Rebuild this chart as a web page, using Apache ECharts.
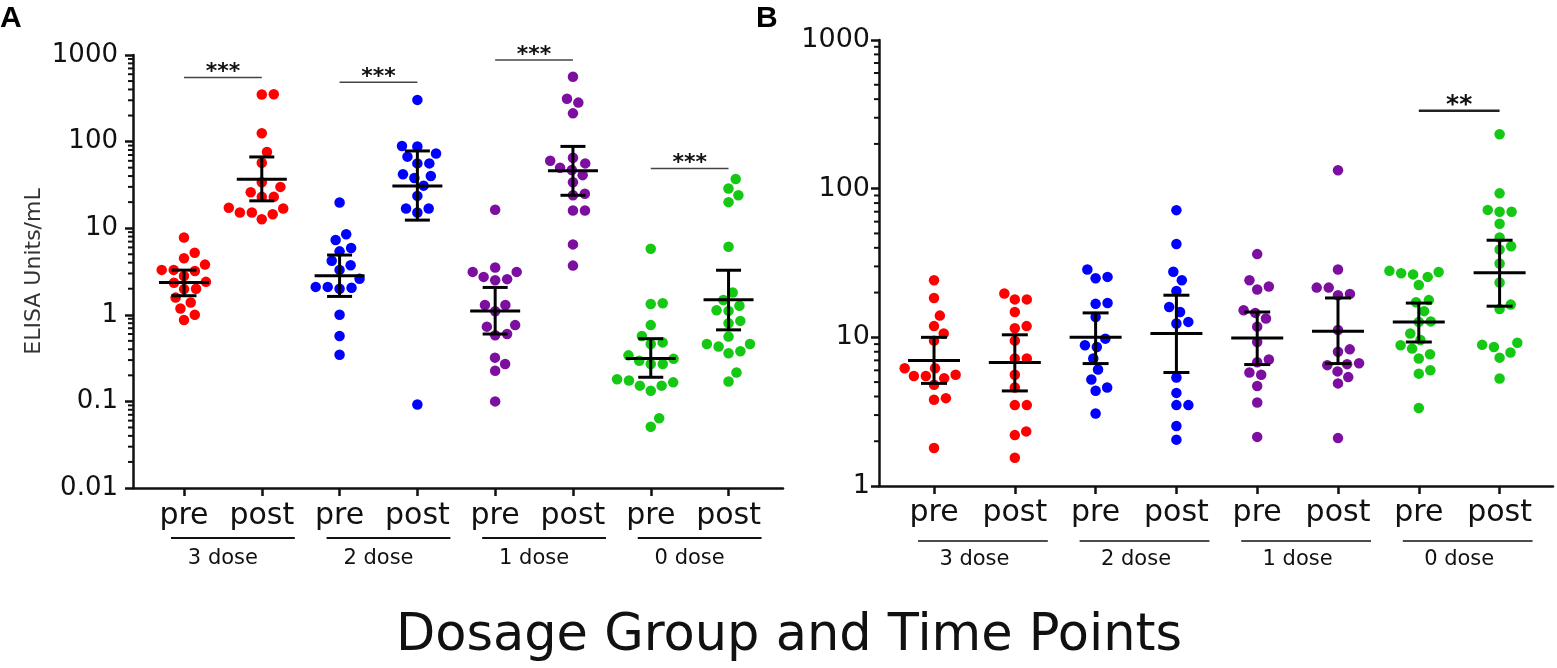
<!DOCTYPE html>
<html>
<head>
<meta charset="utf-8">
<script src="https://cdn.jsdelivr.net/npm/echarts@6/dist/echarts.min.js"></script>
<style>
html, body { margin: 0; padding: 0; background: #fff; }
#chart { width: 1557px; height: 668px; }
</style>
</head>
<body>
<div id="chart"></div>
<script>
// categories
var xLabels = ['pre', 'post', 'pre', 'post', 'pre', 'post', 'pre', 'post'];
var doseLabels = ['3 dose', '2 dose', '1 dose', '0 dose'];
var doseColors = ['#ff0000', '#0000ff', '#7d0fa0', '#14c814'];

// panel A - ELISA units/mL
var a3Pre = [7.8, 5.2, 4.5, 3.8, 3.3, 3.2, 3.3, 2.8, 2.4, 2.35, 2.0, 1.98, 1.58, 1.39, 1.18, 1.0, 0.87];
var a3Post = [352, 350, 125, 76, 57, 34, 30, 26, 23, 23, 16.9, 17.2, 15.2, 14.5, 15.2, 12.7];
var a2Pre = [19.8, 8.5, 7.3, 5.9, 5.4, 4.2, 3.74, 3.3, 2.6, 2.1, 2.05, 2.1, 2.0, 1.0, 0.57, 0.345];
var a2Post = [303, 89, 88, 73, 67, 56, 56, 42, 40, 38, 31, 23.6, 16.9, 15.2, 16.9, 0.092];
var a1Pre = [16.3, 3.52, 3.13, 3.13, 2.74, 2.58, 2.51, 1.3, 1.3, 1.1, 0.76, 0.73, 0.6, 0.58, 0.32, 0.27, 0.226, 0.10];
var a1Post = [562, 313, 282, 212, 65, 60, 56, 50, 47, 41, 34, 25, 24, 16, 16, 6.5, 3.7];
var a0Pre = [5.8, 1.36, 1.33, 0.76, 0.57, 0.46, 0.48, 0.34, 0.295, 0.27, 0.27, 0.31, 0.18, 0.166, 0.152, 0.133, 0.152, 0.174, 0.064, 0.051];
var a0Post = [37, 28.7, 24, 20, 6.1, 1.81, 1.48, 1.27, 1.11, 1.13, 0.85, 0.80, 0.56, 0.46, 0.38, 0.36, 0.43, 0.46, 0.216, 0.17];
var aMean = [2.36, 36.8, 2.82, 30.8, 1.11, 46, 0.313, 1.49];
var aLow = [1.66, 20.7, 1.63, 12.4, 0.6, 24, 0.19, 0.67];
var aHigh = [3.28, 66.5, 4.9, 78, 2.07, 88, 0.53, 3.27];
var aSigFrom = [1, 3, 5, 7];
var aSigTo = [2, 4, 6, 8];
var aSigAt = [551, 483, 873, 49];
var aSigText = ['***', '***', '***', '***'];
var aTicks = [0.01, 0.1, 1, 10, 100, 1000];

// panel B
var b3Pre = [24.2, 18.4, 14, 11.9, 10.6, 9.5, 6.2, 6.2, 5.6, 5.5, 5.5, 5.3, 4.8, 3.9, 3.8, 1.8];
var b3Post = [19.7, 18, 18, 14.8, 11.9, 11.5, 9.5, 7.2, 7.2, 5.6, 4.6, 3.5, 3.5, 2.33, 2.2, 1.55];
var b2Pre = [28.6, 25, 25.5, 17, 16.8, 13.7, 9.8, 8.85, 8.6, 7.2, 6.07, 5.2, 4.6, 4.37, 3.07];
var b2Post = [71.7, 42.4, 27.6, 24.2, 20.5, 16, 14.8, 12.7, 12.4, 5.37, 4.23, 3.5, 3.5, 2.53, 2.05];
var b1Pre = [36.3, 24.2, 22, 21, 15.2, 14.6, 13.4, 11.8, 9.3, 7.1, 6.8, 5.8, 5.6, 4.7, 3.64, 2.14];
var b1Post = [133, 28.6, 21.6, 21.6, 19.6, 19.2, 11.2, 8.3, 8.0, 6.7, 6.5, 6.6, 5.9, 5.4, 4.9, 2.1];
var b0Pre = [27.5, 26.5, 28, 25.5, 27, 22.5, 17.8, 17.2, 15, 12.8, 12.7, 10.6, 9.6, 8.85, 8.4, 7.7, 7.2, 6, 5.7, 3.35];
var b0Post = [232, 93, 70, 72, 70, 58, 47, 39, 41, 31.4, 23.4, 16.6, 15.5, 8.9, 9.2, 8.6, 7.9, 7.3, 5.28];
var bMean = [6.98, 6.76, 10, 10.6, 9.9, 11, 12.7, 27.2];
var bLow = [4.9, 4.36, 6.66, 5.8, 6.56, 6.66, 9.3, 16.2];
var bHigh = [10, 10.4, 14.6, 19.2, 14.8, 18.4, 17, 45];
var bSigFrom = [7];
var bSigTo = [8];
var bSigAt = [334];
var bSigText = ['**'];
var bTicks = [1, 10, 100, 1000];

var FONT = 'DejaVu Sans';
var chart = echarts.init(document.getElementById('chart'));

// place dots of one group side by side (simple beeswarm, in pixels)
function swarm(vals, center, pxX, pxY) {
    var D = 12;
    var pts = vals.map(function (v) { return { v: v, y: Math.log10(v) * pxY, x: 0 }; });
    pts.sort(function (a, b) { return a.y - b.y; });
    var placed = [];
    pts.forEach(function (p) {
        var cands = [0];
        placed.forEach(function (q) {
            var dy = p.y - q.y;
            if (Math.abs(dy) < D) {
                var dx = Math.sqrt(D * D - dy * dy);
                cands.push(q.x + dx, q.x - dx);
            }
        });
        cands.sort(function (a, b) { return Math.abs(a) - Math.abs(b); });
        for (var i = 0; i < cands.length; i++) {
            var c = cands[i], ok = true;
            for (var j = 0; j < placed.length; j++) {
                var ddx = c - placed[j].x, ddy = p.y - placed[j].y;
                if (ddx * ddx + ddy * ddy < D * D - 0.01) { ok = false; break; }
            }
            if (ok) { p.x = c; break; }
        }
        placed.push(p);
    });
    return pts.map(function (p) { return [center + p.x / pxX, p.v]; });
}

function minorValues(ticks) {
    var out = [];
    for (var i = 0; i < ticks.length - 1; i++) {
        for (var m = 2; m <= 9; m++) out.push(+(ticks[i] * m).toPrecision(3));
    }
    return out;
}

function fmt(v) { return String(+Number(v).toPrecision(3)); }

function panelSeries(k, groups, mean, low, high, sFrom, sTo, sAt, sText, ticks, xMin, px, st) {
    var series = [];
    var yMin = ticks[0];
    groups.forEach(function (g, i) {
        series.push({
            type: 'scatter', xAxisIndex: k, yAxisIndex: k, silent: true,
            symbolSize: 10.5, z: 2,
            itemStyle: { color: doseColors[Math.floor(i / 2)], opacity: 1 },
            data: swarm(g, i + 1, px.x, px.y)
        });
    });
    // mean with 95% CI
    series.push({
        type: 'custom', xAxisIndex: k, yAxisIndex: k, silent: true, z: 5,
        encode: { x: 0, y: [1, 2, 3] },
        data: mean.map(function (m, i) { return [i + 1, m, low[i], high[i]]; }),
        renderItem: function (params, api) {
            var x = api.value(0);
            var pm = api.coord([x, api.value(1)]);
            var pl = api.coord([x, api.value(2)]);
            var ph = api.coord([x, api.value(3)]);
            var s = { stroke: '#000', lineWidth: 3 };
            return { type: 'group', children: [
                { type: 'line', shape: { x1: pm[0] - st.meanW, y1: pm[1], x2: pm[0] + st.meanW, y2: pm[1] }, style: s },
                { type: 'line', shape: { x1: pl[0], y1: pl[1], x2: ph[0], y2: ph[1] }, style: s },
                { type: 'line', shape: { x1: pl[0] - st.capW, y1: pl[1], x2: pl[0] + st.capW, y2: pl[1] }, style: s },
                { type: 'line', shape: { x1: ph[0] - st.capW, y1: ph[1], x2: ph[0] + st.capW, y2: ph[1] }, style: s }
            ] };
        }
    });
    // minor log ticks
    series.push({
        type: 'custom', xAxisIndex: k, yAxisIndex: k, silent: true, z: 6,
        encode: { x: 0, y: 1 },
        data: minorValues(ticks).map(function (v) { return [xMin, v]; }),
        renderItem: function (params, api) {
            var p = api.coord([api.value(0), api.value(1)]);
            return { type: 'line', shape: { x1: p[0] - 5, y1: p[1], x2: p[0], y2: p[1] },
                style: { stroke: '#111', lineWidth: 2 } };
        }
    });
    // dose group underline and label
    series.push({
        type: 'custom', xAxisIndex: k, yAxisIndex: k, silent: true, z: 6,
        encode: { x: 0, y: 1 },
        data: doseLabels.map(function (d, i) { return [2 * i + 1, yMin]; }),
        renderItem: function (params, api) {
            var x = api.value(0);
            var p1 = api.coord([x, yMin]);
            var p2 = api.coord([x + 1, yMin]);
            return { type: 'group', children: [
                { type: 'line', shape: { x1: p1[0] - st.ulLeft, y1: p1[1] + st.ulDy, x2: p2[0] + 33, y2: p1[1] + st.ulDy },
                    style: { stroke: '#111', lineWidth: st.ulW } },
                { type: 'text', style: { text: doseLabels[params.dataIndex], x: (p1[0] + p2[0]) / 2, y: p1[1] + st.txtDy,
                    align: 'center', verticalAlign: 'middle', font: '21px "DejaVu Sans"', fill: '#111' } }
            ] };
        }
    });
    // significance bars
    series.push({
        type: 'custom', xAxisIndex: k, yAxisIndex: k, silent: true, z: 6,
        encode: { x: [0, 1], y: 2 },
        data: sFrom.map(function (f, i) { return [f, sTo[i], sAt[i]]; }),
        renderItem: function (params, api) {
            var a = api.coord([api.value(0), api.value(2)]);
            var b = api.coord([api.value(1), api.value(2)]);
            return { type: 'group', children: [
                { type: 'line', shape: { x1: a[0], y1: a[1], x2: b[0], y2: b[1] },
                    style: { stroke: st.sigColor, lineWidth: st.sigW } },
                { type: 'text', style: { text: sText[params.dataIndex], x: (a[0] + b[0]) / 2, y: a[1] - 5,
                    align: 'center', verticalAlign: 'middle', font: st.sigFont, fill: '#111' } }
            ] };
        }
    });
    return series;
}

var positions = xLabels.map(function (l, i) { return i + 1; });

function xAxisCfg(k, min, max, margin) {
    return {
        gridIndex: k, type: 'value', min: min, max: max,
        axisLine: { show: true, onZero: false, lineStyle: { color: '#111', width: 2.5 } },
        axisTick: { show: true, customValues: positions, length: 8, lineStyle: { color: '#111', width: 2.5 } },
        axisLabel: { show: true, customValues: positions, margin: margin, fontSize: 30, fontFamily: FONT, color: '#111',
            formatter: function (v) { return xLabels[Math.round(v) - 1]; } },
        splitLine: { show: false }
    };
}

function yAxisCfg(k, min, max, split, fs, margin) {
    return {
        gridIndex: k, type: 'log', logBase: 10, min: min, max: max, splitNumber: split,
        axisLine: { show: true, lineStyle: { color: '#111', width: 2.5 } },
        axisTick: { show: true, length: 8, lineStyle: { color: '#111', width: 2.5 } },
        axisLabel: { show: true, fontSize: fs, fontFamily: FONT, color: '#111', margin: margin, formatter: fmt },
        splitLine: { show: false }
    };
}

var yA = yAxisCfg(0, 0.01, 1000, 5, 26, 15);
yA.name = 'ELISA Units/mL';
yA.nameLocation = 'middle';
yA.nameRotate = 90;
yA.nameGap = 88;
yA.nameTextStyle = { fontSize: 22, fontFamily: FONT, color: '#333' };

var aMinX = 0.3445, aMaxX = 8.70, bMinX = 0.319, bMaxX = 8.661;

var option = {
    backgroundColor: '#fff',
    animation: false,
    grid: [
        { left: 133, top: 55, width: 650, height: 433 },
        { left: 879, top: 40, width: 674, height: 446 }
    ],
    xAxis: [xAxisCfg(0, aMinX, aMaxX, 13), xAxisCfg(1, bMinX, bMaxX, 12)],
    yAxis: [yA, yAxisCfg(1, 1, 1000, 3, 27, 9)],
    graphic: [
        { type: 'text', style: { text: 'A', x: 0, y: 4, font: 'bold 30px "Liberation Sans"', fill: '#000' } },
        { type: 'text', style: { text: 'B', x: 756, y: 4, font: 'bold 30px "Liberation Sans"', fill: '#000' } },
        { type: 'text', style: { text: 'Dosage Group and Time Points', x: 789, y: 637, align: 'center',
            verticalAlign: 'middle', font: '51px "DejaVu Sans"', fill: '#111' } }
    ],
    series: [].concat(
        panelSeries(0, [a3Pre, a3Post, a2Pre, a2Post, a1Pre, a1Post, a0Pre, a0Post], aMean, aLow, aHigh,
            aSigFrom, aSigTo, aSigAt, aSigText, aTicks, aMinX,
            { x: 650 / (aMaxX - aMinX), y: 433 / 5 },
            { meanW: 25, capW: 12.5, ulLeft: 13, ulDy: 50, ulW: 2, txtDy: 71, sigColor: '#444', sigW: 1.5, sigFont: 'bold 22px "DejaVu Sans"' }),
        panelSeries(1, [b3Pre, b3Post, b2Pre, b2Post, b1Pre, b1Post, b0Pre, b0Post], bMean, bLow, bHigh,
            bSigFrom, bSigTo, bSigAt, bSigText, bTicks, bMinX,
            { x: 674 / (bMaxX - bMinX), y: 446 / 3 },
            { meanW: 26, capW: 13, ulLeft: 16, ulDy: 55, ulW: 1.3, txtDy: 74, sigColor: '#222', sigW: 2.5, sigFont: 'bold 25px "DejaVu Sans"' })
    )
};
chart.setOption(option);
</script>
</body>
</html>
